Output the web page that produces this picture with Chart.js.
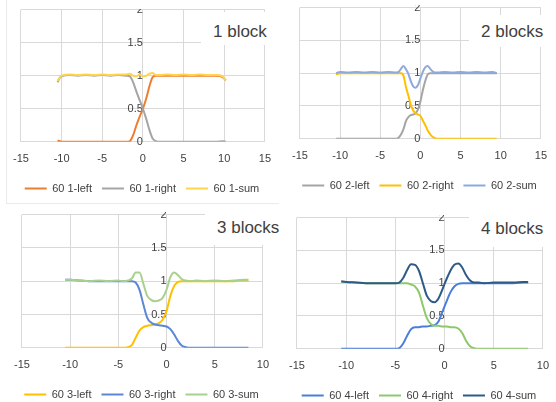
<!DOCTYPE html>
<html>
<head>
<meta charset="utf-8">
<script src="https://cdn.jsdelivr.net/npm/chart.js@4.4.0/dist/chart.umd.min.js"></script>
<style>
  body { margin: 0; background: #fff; }
  #wrap { position: relative; width: 556px; height: 402px; overflow: hidden; background: #fff; }
  .clip { position: absolute; overflow: hidden; }
  .clip canvas { position: absolute; left: 0; top: 0; }
  .frame { position: absolute; border: 0 solid #ebebeb; }
  .tag {
    position: absolute; z-index: 5; background: #fff; color: #404040;
    font: 17px "Liberation Sans", Arial, sans-serif; line-height: 20px;
    box-sizing: border-box; padding-left: 12px; white-space: nowrap;
  }
</style>
</head>
<body>
<div id="wrap">
  <div class="frame" style="left:6px;top:0;width:272px;height:203px;border-left-width:1px;border-bottom-width:1px"></div>

  <div class="clip" id="clip1" style="left:0;top:9px;width:279px;height:193px"><canvas id="chart1"></canvas></div>
  <div class="clip" id="clip2" style="left:280px;top:5px;width:276px;height:199px"><canvas id="chart2"></canvas></div>
  <div class="clip" id="clip3" style="left:0;top:212px;width:280px;height:190px"><canvas id="chart3"></canvas></div>
  <div class="clip" id="clip4" style="left:280px;top:215px;width:276px;height:187px"><canvas id="chart4"></canvas></div>

  <div class="tag" style="left:201px;top:12px;width:71px;height:33px;padding-top:10px">1 block</div>
  <div class="tag" style="left:469px;top:15px;width:80px;height:32px;padding-top:7px">2 blocks</div>
  <div class="tag" style="left:205px;top:210px;width:84px;height:35px;padding-top:8px">3 blocks</div>
  <div class="tag" style="left:469px;top:215px;width:80px;height:32px;padding-top:4px">4 blocks</div>
</div>

<script>
// 눈금
var xTicksA = [-15, -10, -5, 0, 5, 10, 15];
var xTicksB = [-15, -10, -5, 0, 5, 10];
var yTicks = [0, 0.5, 1, 1.5, 2];

// 1 block
var names1 = ["60 1-left", "60 1-right", "60 1-sum"];
var x1 = [-10.5, -10.2, -10, -9, -8, -7, -6, -5, -4, -3, -2, -1.6, -1.2, -0.8, -0.4, 0, 0.4, 0.8, 1.2, 1.6, 2, 3, 4, 5, 6, 7, 8, 9, 9.8, 10.2];
var left1 = [0.02, 0.01, 0, 0, 0, 0, 0, 0, 0, 0, 0, 0.01, 0.1, 0.25, 0.38, 0.5, 0.65, 0.84, 0.98, 1, 1, 1, 1, 1, 1, 1, 1, 1, 0.98, 0.93];
var right1 = [0.9, 0.97, 0.99, 1.01, 1, 1.01, 1, 1.01, 1, 1.01, 1, 0.99, 0.9, 0.76, 0.63, 0.5, 0.35, 0.18, 0.05, 0.01, 0, 0, 0, 0, 0, 0, 0, 0, 0.01, 0];
var sum1 = [0.92, 0.98, 1, 1.02, 1.01, 1.02, 1.01, 1.02, 1.01, 1.02, 1.02, 1.03, 1, 0.99, 1.02, 0.99, 1, 1.03, 1.04, 1.01, 1.01, 1.02, 1.01, 1.02, 1.01, 1.02, 1.01, 1.01, 0.99, 0.93];

// 2 blocks
var names2 = ["60 2-left", "60 2-right", "60 2-sum"];
var x2 = [-10.5, -10, -9, -8, -7, -6, -5, -4, -3, -2.7, -2.4, -2.1, -1.8, -1.5, -1.2, -0.9, -0.6, -0.3, 0, 0.3, 0.6, 0.9, 1.2, 1.5, 1.8, 2.2, 3, 4, 5, 6, 7, 8, 9, 9.5];
var left2 = [0, 0, 0, 0, 0, 0, 0, 0, 0, 0.02, 0.07, 0.15, 0.27, 0.33, 0.36, 0.37, 0.39, 0.45, 0.57, 0.74, 0.88, 0.98, 1, 1, 1, 1, 1, 1, 1, 1, 1, 1, 1, 1];
var right2 = [0.98, 1, 1, 1, 1, 1, 1, 1, 1, 1, 1, 0.96, 0.79, 0.66, 0.52, 0.43, 0.39, 0.37, 0.35, 0.28, 0.21, 0.13, 0.07, 0.03, 0.01, 0, 0, 0, 0, 0, 0, 0, 0, 0];
var sum2 = [1, 1.02, 1.01, 1.02, 1.01, 1.02, 1.01, 1.02, 1.01, 1.02, 1.07, 1.11, 1.06, 0.99, 0.88, 0.8, 0.78, 0.82, 0.92, 1.02, 1.09, 1.11, 1.07, 1.03, 1.01, 1.01, 1.02, 1.01, 1.02, 1.01, 1.02, 1.01, 1.02, 1];

// 3 blocks
var names3 = ["60 3-left", "60 3-right", "60 3-sum"];
var x3 = [-10.5, -10, -9, -8, -7, -6, -5, -4.5, -4, -3.6, -3.2, -2.8, -2.4, -2, -1.6, -1.2, -0.8, -0.4, 0, 0.4, 0.8, 1.2, 1.6, 2, 2.5, 3, 4, 5, 6, 7, 8, 8.5];
var left3 = [0, 0, 0, 0, 0, 0, 0, 0, 0.01, 0.04, 0.15, 0.26, 0.31, 0.33, 0.34, 0.35, 0.37, 0.42, 0.55, 0.78, 0.93, 0.99, 1, 1, 1, 1, 1, 1, 1, 1, 1.01, 1.01];
var right3 = [1.02, 1.02, 1.01, 1, 1, 1, 1, 1, 1, 1, 0.98, 0.87, 0.65, 0.45, 0.38, 0.35, 0.34, 0.33, 0.32, 0.28, 0.2, 0.1, 0.03, 0.01, 0, 0, 0, 0, 0, 0, 0, 0];
var sum3 = [1.02, 1.02, 1.01, 1, 1.01, 1, 1.01, 1, 1.01, 1.04, 1.13, 1.13, 0.96, 0.78, 0.72, 0.7, 0.71, 0.75, 0.87, 1.06, 1.13, 1.09, 1.03, 1.01, 1, 1.01, 1, 1.01, 1, 1.01, 1.02, 1.02];

// 4 blocks
var names4 = ["60 4-left", "60 4-right", "60 4-sum"];
var x4 = [-10.5, -10, -9, -8, -7, -6, -5, -4.6, -4.2, -3.8, -3.4, -3, -2.6, -2.2, -1.8, -1.4, -1, -0.6, -0.2, 0.2, 0.6, 1, 1.4, 1.8, 2.2, 2.6, 3, 3.5, 4, 5, 6, 7, 8, 8.5];
var left4 = [0, 0, 0, 0, 0, 0, 0, 0.01, 0.08, 0.2, 0.3, 0.33, 0.33, 0.34, 0.34, 0.35, 0.36, 0.42, 0.57, 0.72, 0.86, 0.95, 0.99, 1, 1, 1, 1, 1, 1, 1, 1, 1, 1.01, 1.01];
var right4 = [1.02, 1.02, 1.01, 1, 1, 1, 1, 1, 1, 1, 0.98, 0.95, 0.86, 0.66, 0.47, 0.38, 0.35, 0.35, 0.34, 0.34, 0.33, 0.33, 0.31, 0.24, 0.12, 0.04, 0.01, 0, 0, 0, 0, 0, 0, 0];
var sum4 = [1.03, 1.02, 1.01, 1, 1, 1, 1, 1.01, 1.08, 1.2, 1.29, 1.28, 1.19, 1, 0.81, 0.73, 0.71, 0.77, 0.91, 1.06, 1.19, 1.28, 1.3, 1.24, 1.12, 1.04, 1.01, 1.01, 1, 1.01, 1.01, 1.01, 1.02, 1.02];

Chart.defaults.font.family = "Liberation Sans";

function pts(xs, ys) {
  return xs.map(function (x, i) {
    return { x: x, y: ys[i] };
  });
}

function tickList(list) {
  return function (scale) {
    scale.ticks = list.map(function (v) {
      return { value: v };
    });
  };
}

// area = [왼쪽, 오른쪽, 위, 아래] 페이지 좌표의 플롯 영역
function drawPanel(id, clip, area, xs, series, names, colors, xTicks) {
  var canvas = document.getElementById(id);

  function config() {
    return {
      type: "line",
      data: {
        datasets: series.map(function (ys, i) {
          return {
            label: names[i],
            data: pts(xs, ys),
            borderColor: colors[i],
            backgroundColor: colors[i],
            borderWidth: 2,
            pointRadius: 0,
            fill: false,
            cubicInterpolationMode: "monotone",
            order: 3 - i,
          };
        }),
      },
      options: {
        responsive: false,
        maintainAspectRatio: false,
        animation: false,
        layout: { padding: { left: 2, right: 2, top: 10, bottom: 2 } },
        scales: {
          x: {
            type: "linear",
            min: xTicks[0],
            max: xTicks[xTicks.length - 1],
            afterBuildTicks: tickList(xTicks),
            ticks: {
              padding: 7,
              color: "#404040",
              font: { size: 11 },
              maxRotation: 0,
              autoSkip: false,
              callback: function (v) { return String(v); },
            },
            grid: { color: "#d9d9d9", drawTicks: true, tickLength: 4, tickColor: "rgba(0,0,0,0)" },
            border: { display: false },
          },
          y: {
            position: { x: 0 },
            min: 0,
            max: 2,
            afterBuildTicks: tickList(yTicks),
            ticks: {
              padding: 8,
              color: "#404040",
              font: { size: 11 },
              callback: function (v) { return String(v); },
            },
            grid: { color: "#d9d9d9", drawTicks: false },
            border: { display: false },
          },
        },
        plugins: {
          tooltip: { enabled: false },
          legend: {
            position: "bottom",
            labels: {
              usePointStyle: true,
              pointStyle: "line",
              pointStyleWidth: 22,
              padding: 10,
              color: "#404040",
              font: { size: 11 },
              sort: function (a, b) { return a.datasetIndex - b.datasetIndex; },
            },
          },
        },
      },
    };
  }

  // 한번 그려보고 플롯 영역 크기에 맞게 캔버스 크기 조정
  canvas.width = 280;
  canvas.height = 200;
  var chart = new Chart(canvas, config());
  var ca = chart.chartArea;
  var w = Math.round(280 + (area[1] - area[0]) - (ca.right - ca.left));
  var h = Math.round(200 + (area[3] - area[2]) - (ca.bottom - ca.top));
  chart.destroy();

  canvas.width = w;
  canvas.height = h;
  canvas.style.width = w + "px";
  canvas.style.height = h + "px";
  chart = new Chart(canvas, config());
  ca = chart.chartArea;
  canvas.style.left = Math.round(area[0] - clip[0] - ca.left) + "px";
  canvas.style.top = Math.round(area[2] - clip[1] - ca.top) + "px";
}

drawPanel("chart1", [0, 9], [21, 265, 10, 142], x1, [left1, right1, sum1], names1,
  ["#ED7D31", "#A5A5A5", "#FFD54F"], xTicksA);
drawPanel("chart2", [280, 5], [300, 541, 8, 139], x2, [left2, right2, sum2], names2,
  ["#A5A5A5", "#FFC000", "#8EA9DB"], xTicksA);
drawPanel("chart3", [0, 212], [22, 263, 215, 348], x3, [left3, right3, sum3], names3,
  ["#FFC000", "#5B87D6", "#A9D18E"], xTicksB);
drawPanel("chart4", [280, 215], [297, 543, 218, 349], x4, [left4, right4, sum4], names4,
  ["#4A7EDB", "#8CC96A", "#2E5A87"], xTicksB);
</script>
</body>
</html>
